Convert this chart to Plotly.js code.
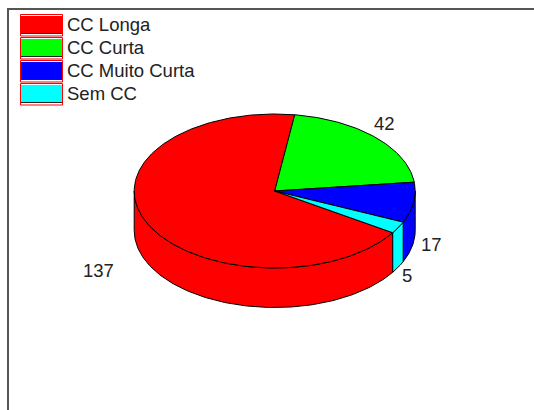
<!DOCTYPE html>
<html>
<head>
<meta charset="utf-8">
<script src="https://cdn.plot.ly/plotly-3.0.0.min.js"></script>
<style>html,body{margin:0;padding:0;background:#fff}#chart{width:534px;height:410px}</style>
</head>
<body>
<div id="chart"></div>
<script>
var categories = ["CC Longa", "CC Curta", "CC Muito Curta", "Sem CC"];
var values = [137, 42, 17, 5];
var colors = ["#ff0000", "#00ff00", "#0000ff", "#00ffff"];

// Pie projection, in the pixel-like units of the axes
var CX = 274.7, CY = 191, RX = 140.5, RY = 77, DEPTH = 39.5;
var FIRST_BOUNDARY = 81.8; // angle (deg, ccw from +x) where the 2nd category starts

var total = values.reduce(function (a, b) { return a + b; }, 0);
function px(t) { return CX + RX * Math.cos(t * Math.PI / 180); }
function py(t) { return CY - RY * Math.sin(t * Math.PI / 180); }

var ranges = [], a = FIRST_BOUNDARY;
for (var i = 1; i < values.length; i++) {
  var s = values[i] / total * 360;
  ranges[i] = [a, a - s];
  a -= s;
}
ranges[0] = [a, FIRST_BOUNDARY - 360];

var traces = [];
function lineStyle() { return { color: "#000000", width: 1 }; }

for (var i = 0; i < values.length; i++) {
  var hi = Math.min(ranges[i][0], 0), lo = Math.max(ranges[i][1], -180);
  if (hi <= lo) continue;
  var xs = [], ys = [], t;
  for (t = hi; t >= lo; t -= 1) { xs.push(px(t)); ys.push(py(t)); }
  xs.push(px(lo)); ys.push(py(lo));
  xs.push(px(lo)); ys.push(py(lo) + DEPTH);
  for (t = lo; t <= hi; t += 1) { xs.push(px(t)); ys.push(py(t) + DEPTH); }
  xs.push(px(hi)); ys.push(py(hi) + DEPTH);
  xs.push(px(hi)); ys.push(py(hi));
  traces.push({ type: "scatter", mode: "lines", x: xs, y: ys, fill: "toself",
    fillcolor: colors[i], line: lineStyle(), hoverinfo: "skip", showlegend: false });
}
for (var i = 0; i < values.length; i++) {
  var xs = [CX], ys = [CY], t;
  for (t = ranges[i][0]; t >= ranges[i][1]; t -= 1) { xs.push(px(t)); ys.push(py(t)); }
  xs.push(px(ranges[i][1])); ys.push(py(ranges[i][1]));
  xs.push(CX); ys.push(CY);
  traces.push({ type: "scatter", mode: "lines", x: xs, y: ys, fill: "toself",
    fillcolor: colors[i], line: lineStyle(), name: categories[i],
    hovertemplate: categories[i] + ": " + values[i] + "<extra></extra>", showlegend: false });
}

var shapes = [], annotations = [];
var LEG_X0 = 20, LEG_X1 = 62, LEG_Y0 = 14, LEG_STEP = 23, LEG_H = 21.5;
var labelFont = { family: "Liberation Sans, Arial, sans-serif", size: 18.5, color: "#222222" };
categories.forEach(function (c, i) {
  var y0 = LEG_Y0 + i * LEG_STEP;
  shapes.push({ type: "rect", xref: "x", yref: "y", x0: LEG_X0 + 0.5, x1: LEG_X1 + 0.5, y0: y0 + 0.5, y1: y0 + LEG_H + 0.5,
    fillcolor: "#ffffff", line: { color: "#ff0000", width: 1 } });
  shapes.push({ type: "rect", xref: "x", yref: "y", x0: LEG_X0 + 1, x1: LEG_X1, y0: y0 + 2, y1: y0 + 19.5,
    fillcolor: colors[i], line: { width: 0 } });
  shapes.push({ type: "line", xref: "x", yref: "y", x0: LEG_X0 + 1, x1: LEG_X1, y0: y0 + 19.5, y1: y0 + 19.5,
    line: { color: "#222222", width: 1.2 } });
  annotations.push({ xref: "x", yref: "y", x: 64.5, y: y0 + 10, text: c, showarrow: false,
    xanchor: "left", yanchor: "middle", font: labelFont });
});

var labelAt = [[98, 270], [384, 123], [431, 244], [407, 275]];
values.forEach(function (v, i) {
  annotations.push({ xref: "x", yref: "y", x: labelAt[i][0], y: labelAt[i][1], text: String(v), showarrow: false,
    xanchor: "center", yanchor: "middle", font: labelFont });
});

var layout = {
  width: 534, height: 410,
  margin: { l: 9, r: 0, t: 10, b: 0, pad: 0 },
  paper_bgcolor: "#ffffff", plot_bgcolor: "#ffffff",
  showlegend: false,
  xaxis: { range: [9, 534], side: "top", showline: true, linecolor: "#555555", linewidth: 1.5,
    showgrid: false, zeroline: false, showticklabels: false, ticks: "", fixedrange: true },
  yaxis: { range: [410, 10], showline: true, linecolor: "#555555", linewidth: 1.5,
    showgrid: false, zeroline: false, showticklabels: false, ticks: "", fixedrange: true },
  shapes: shapes,
  annotations: annotations
};
Plotly.newPlot("chart", traces, layout, { displayModeBar: false, responsive: false });
</script>
</body>
</html>
